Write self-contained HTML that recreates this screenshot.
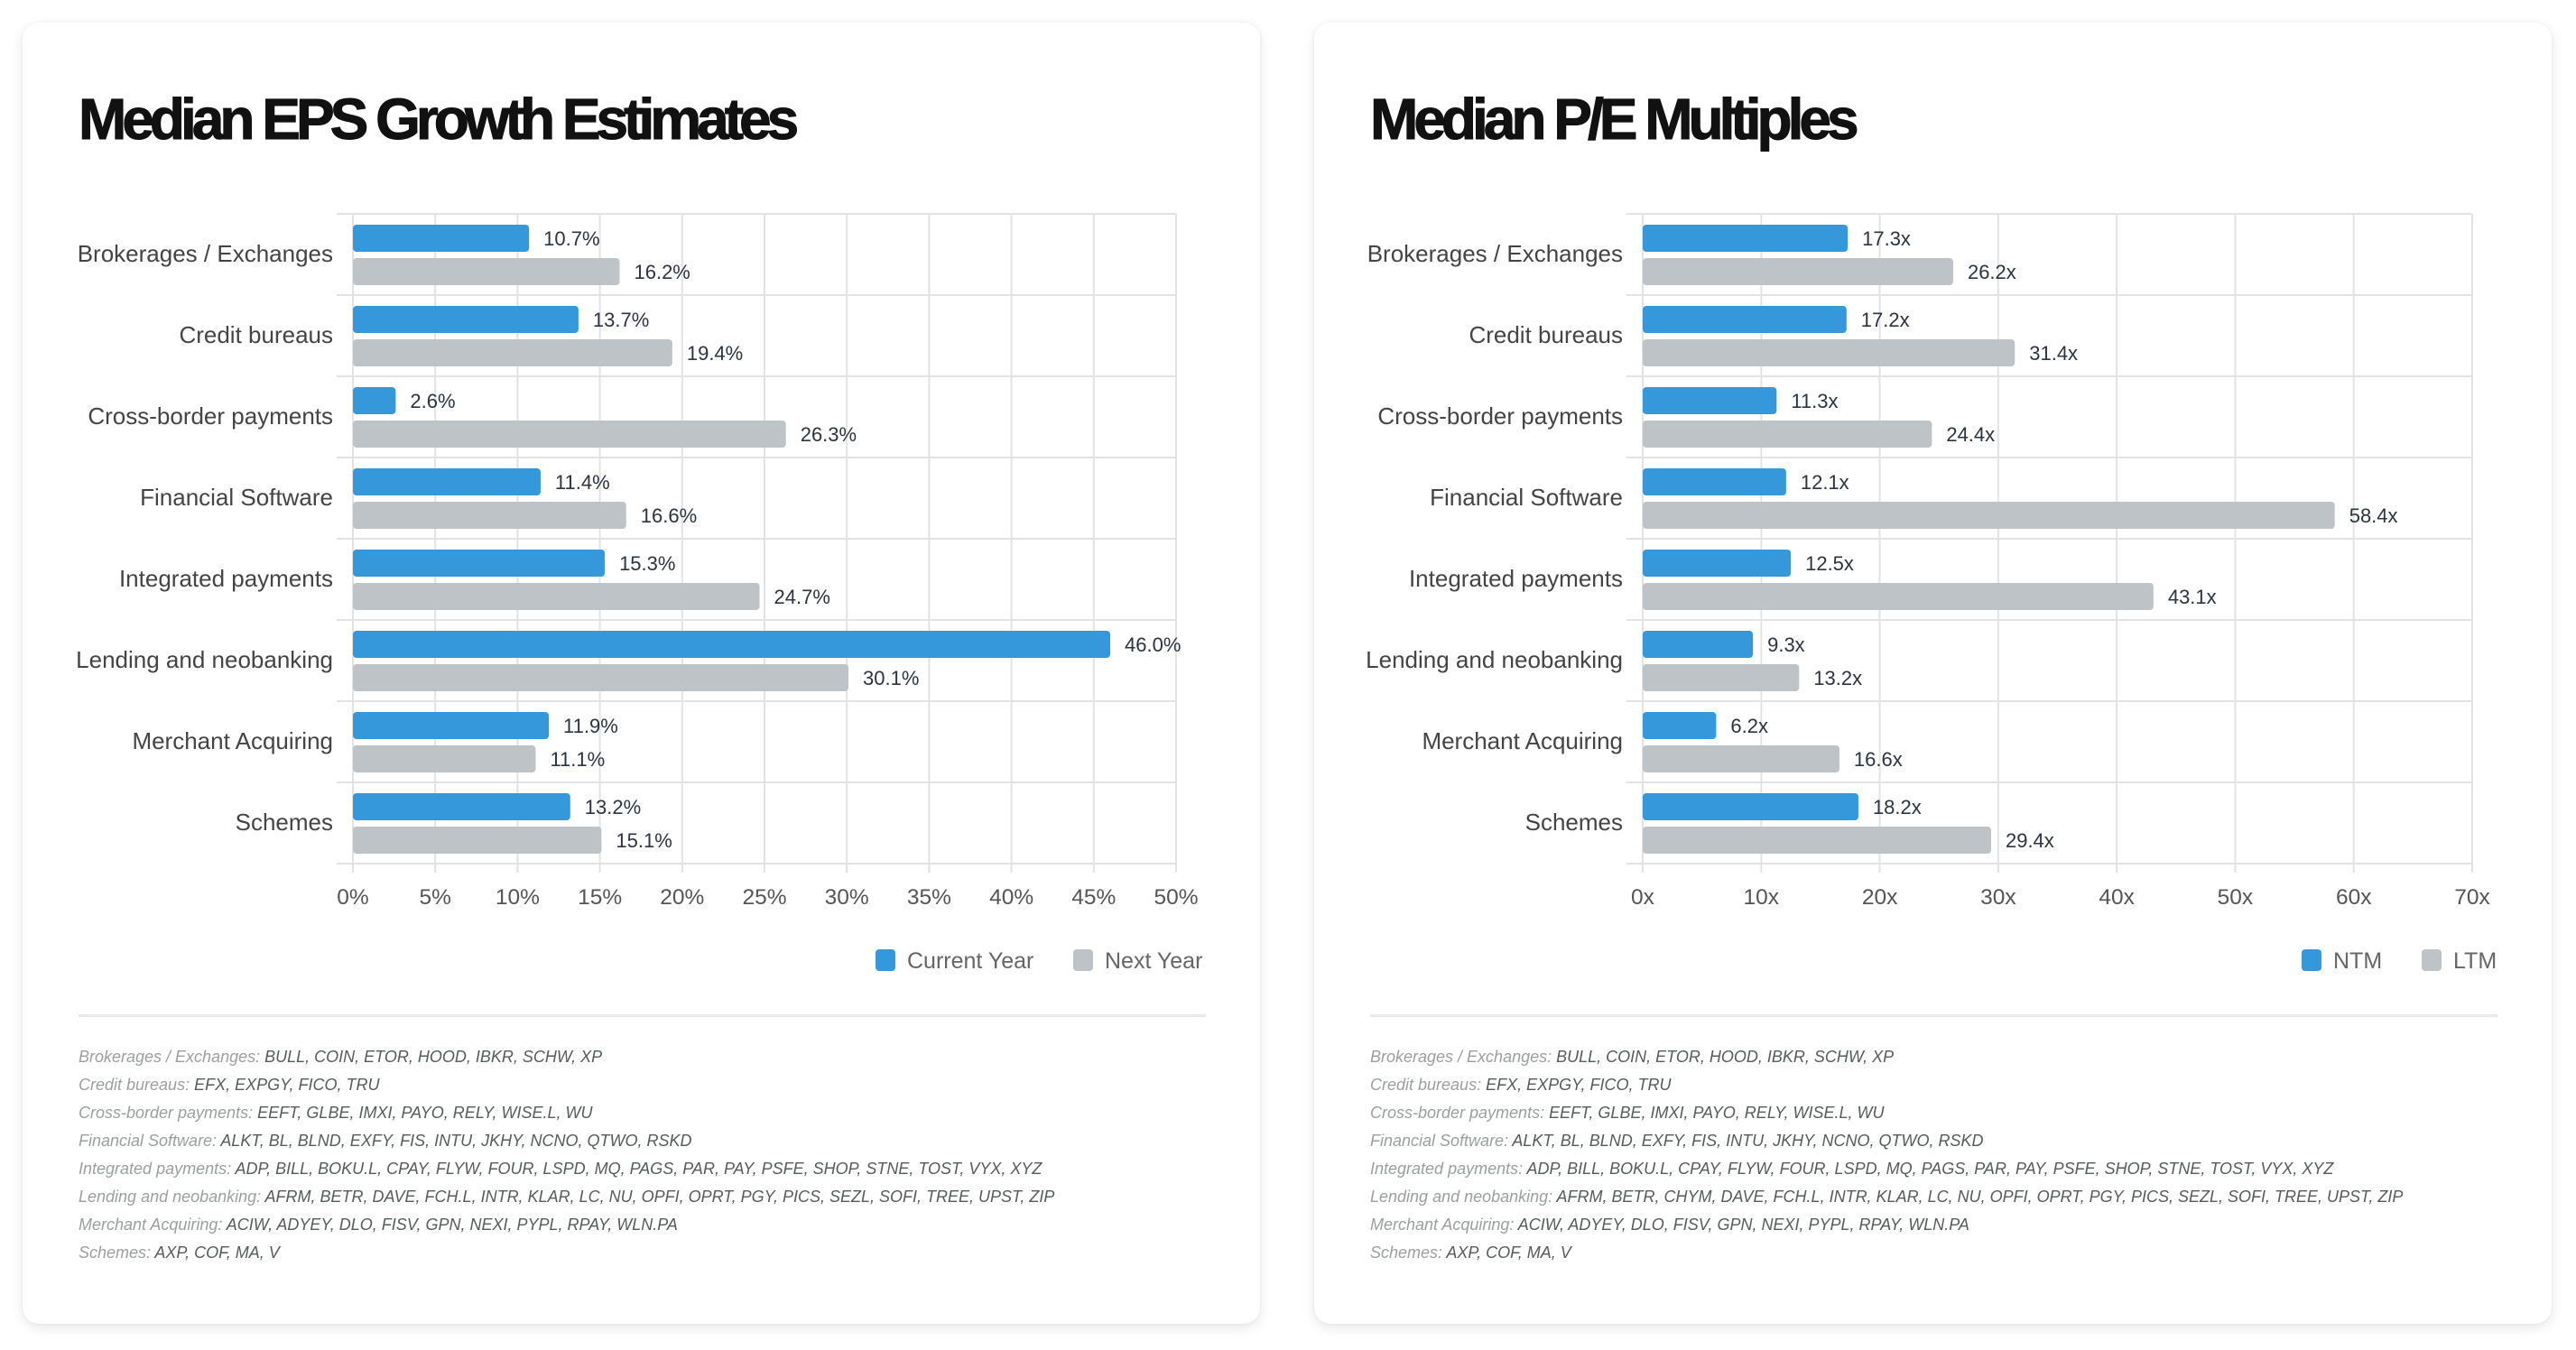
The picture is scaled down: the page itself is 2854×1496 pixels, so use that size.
<!DOCTYPE html>
<html><head><meta charset="utf-8">
<style>
html,body{margin:0;padding:0;background:#fff;}
body{width:2854px;height:1496px;position:relative;overflow:hidden;font-family:"Liberation Sans",sans-serif;}
.card{position:absolute;top:25px;width:1371px;height:1442px;background:#fff;border-radius:18px;box-shadow:0 4px 14px rgba(0,0,0,0.10),0 0 3px rgba(0,0,0,0.06);}
.title{position:absolute;left:62px;top:67px;font-size:64px;font-weight:bold;letter-spacing:-5px;color:#111;margin:0;line-height:80px;-webkit-text-stroke:1px #111;}
svg{position:absolute;left:0;top:0;}
.divider{position:absolute;left:62px;top:1099px;width:1249px;height:3px;background:#e8e9ec;}
.notes{position:absolute;left:62px;top:1131px;font-size:18px;font-style:italic;line-height:31px;color:#9aa0a0;}
.notes b{font-weight:normal;color:#555c5c;}
</style></head><body>
<div class="card" id="card1" style="left:25px">
  <h1 class="title">Median EPS Growth Estimates</h1>
  <svg id="svg1" width="1371" height="1100"></svg>
  <div class="divider"></div>
  <div class="notes">
    <div>Brokerages / Exchanges: <b>BULL, COIN, ETOR, HOOD, IBKR, SCHW, XP</b></div>
    <div>Credit bureaus: <b>EFX, EXPGY, FICO, TRU</b></div>
    <div>Cross-border payments: <b>EEFT, GLBE, IMXI, PAYO, RELY, WISE.L, WU</b></div>
    <div>Financial Software: <b>ALKT, BL, BLND, EXFY, FIS, INTU, JKHY, NCNO, QTWO, RSKD</b></div>
    <div>Integrated payments: <b>ADP, BILL, BOKU.L, CPAY, FLYW, FOUR, LSPD, MQ, PAGS, PAR, PAY, PSFE, SHOP, STNE, TOST, VYX, XYZ</b></div>
    <div>Lending and neobanking: <b>AFRM, BETR, DAVE, FCH.L, INTR, KLAR, LC, NU, OPFI, OPRT, PGY, PICS, SEZL, SOFI, TREE, UPST, ZIP</b></div>
    <div>Merchant Acquiring: <b>ACIW, ADYEY, DLO, FISV, GPN, NEXI, PYPL, RPAY, WLN.PA</b></div>
    <div>Schemes: <b>AXP, COF, MA, V</b></div>
  </div>
</div>
<div class="card" id="card2" style="left:1456px">
  <h1 class="title">Median P/E Multiples</h1>
  <svg id="svg2" width="1371" height="1100"></svg>
  <div class="divider"></div>
  <div class="notes">
    <div>Brokerages / Exchanges: <b>BULL, COIN, ETOR, HOOD, IBKR, SCHW, XP</b></div>
    <div>Credit bureaus: <b>EFX, EXPGY, FICO, TRU</b></div>
    <div>Cross-border payments: <b>EEFT, GLBE, IMXI, PAYO, RELY, WISE.L, WU</b></div>
    <div>Financial Software: <b>ALKT, BL, BLND, EXFY, FIS, INTU, JKHY, NCNO, QTWO, RSKD</b></div>
    <div>Integrated payments: <b>ADP, BILL, BOKU.L, CPAY, FLYW, FOUR, LSPD, MQ, PAGS, PAR, PAY, PSFE, SHOP, STNE, TOST, VYX, XYZ</b></div>
    <div>Lending and neobanking: <b>AFRM, BETR, CHYM, DAVE, FCH.L, INTR, KLAR, LC, NU, OPFI, OPRT, PGY, PICS, SEZL, SOFI, TREE, UPST, ZIP</b></div>
    <div>Merchant Acquiring: <b>ACIW, ADYEY, DLO, FISV, GPN, NEXI, PYPL, RPAY, WLN.PA</b></div>
    <div>Schemes: <b>AXP, COF, MA, V</b></div>
  </div>
</div>
<script>
const categories = ["Brokerages / Exchanges","Credit bureaus","Cross-border payments","Financial Software","Integrated payments","Lending and neobanking","Merchant Acquiring","Schemes"];
const epsCurrentYear = [10.7,13.7,2.6,11.4,15.3,46.0,11.9,13.2];
const epsNextYear = [16.2,19.4,26.3,16.6,24.7,30.1,11.1,15.1];
const epsTicks = [0,5,10,15,20,25,30,35,40,45,50];
const peNTM = [17.3,17.2,11.3,12.1,12.5,9.3,6.2,18.2];
const peLTM = [26.2,31.4,24.4,58.4,43.1,13.2,16.6,29.4];
const peTicks = [0,10,20,30,40,50,60,70];

const NS="http://www.w3.org/2000/svg";
function mk(svg,tag,attrs,text){const e=document.createElementNS(NS,tag);for(const k in attrs)e.setAttribute(k,attrs[k]);if(text!==undefined)e.textContent=text;svg.appendChild(e);return e;}

function drawChart(svgId, s1, s2, ticks, fmtVal, fmtTick, names, x0, x1){
  const svg=document.getElementById(svgId);
  const top=212, bottom=932, n=categories.length, band=(bottom-top)/n;
  const max=ticks[ticks.length-1];
  const X=v=>x0+(v/max)*(x1-x0);
  ticks.forEach(t=>{
    const l=mk(svg,'line',{x1:X(t),x2:X(t),y1:top,y2:bottom+10,stroke:'#e3e3e3','stroke-width':2});
    
    
    const tx=mk(svg,'text',{x:X(t),y:bottom+45,'text-anchor':'middle','font-size':24.5,fill:'#555'},fmtTick(t));
    
    
  });
  for(let i=0;i<=n;i++){
    const l=mk(svg,'line',{x1:x0-18,x2:x1,y1:top+i*band,y2:top+i*band,stroke:'#e3e3e3','stroke-width':2});
    
    
  }
  categories.forEach((c,i)=>{
    const y=top+i*band;
    const lab=mk(svg,'text',{x:x0-22,y:y+band/2+8,'text-anchor':'end','font-size':26,fill:'#444'},c);
    
    
    [[s1,'#3498db',12],[s2,'#bdc3c7',49]].forEach(([arr,col,off],k)=>{
      const v=arr[i];
      const r=mk(svg,'rect',{x:x0,y:y+off,width:Math.max(0,X(v)-x0),height:30,rx:4,fill:col});
      
      
      const t=mk(svg,'text',{x:X(v)+16,y:y+off+23,'font-size':22,fill:'#2c3440'},fmtVal(v));
      
      
    });
  });
}
drawChart('svg1',epsCurrentYear,epsNextYear,epsTicks,v=>v.toFixed(1)+'%',t=>t+'%',['current-year','next-year'],366,1278);
drawChart('svg2',peNTM,peLTM,peTicks,v=>v.toFixed(1)+'x',t=>t+'x',['ntm','ltm'],364,1283);

function legend(svgId, items){
  const svg=document.getElementById(svgId);
  items.forEach(([label,col,sx])=>{
    const r=mk(svg,'rect',{x:sx,y:1027,width:22,height:24,rx:4,fill:col});
    
    
    const t=mk(svg,'text',{x:sx+35,y:1048,'font-size':25,fill:'#666'},label);
    
    
  });
}
legend('svg1',[['Current Year','#3498db',945],['Next Year','#bdc3c7',1164]]);
legend('svg2',[['NTM','#3498db',1094],['LTM','#bdc3c7',1227]]);
</script>
</body></html>
